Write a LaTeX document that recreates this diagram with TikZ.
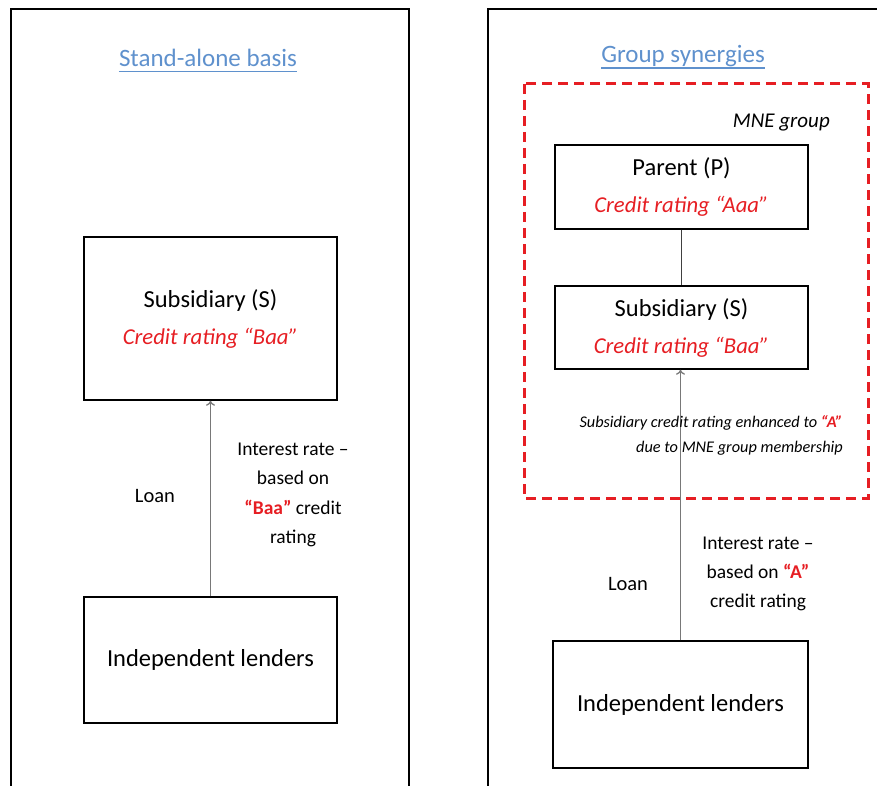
\documentclass[tikz,border=0pt]{standalone}
\usepackage{fontspec}
\setmainfont{Carlito}
\usetikzlibrary{arrows.meta}
\definecolor{redtxt}{RGB}{230,30,35}
\definecolor{titleblue}{RGB}{95,145,205}
\definecolor{arrowgray}{RGB}{120,120,120}
\tikzset{
  frame/.style={draw=black, line width=2.6pt},
  entbox/.style={draw=black, line width=1.5pt, align=center, inner sep=0pt,
    font=\fontsize{24.5}{37}\selectfont},
  lbl/.style={align=center, inner sep=0pt, font=\fontsize{19.5}{29.3}\selectfont},
  ttl/.style={inner sep=0pt, anchor=base, text=titleblue, font=\fontsize{25}{28}\selectfont},
  ulin/.style={draw=titleblue, line width=1.8pt},
  loanarrow/.style={draw=arrowgray, line width=1.3pt, -{To[length=5pt,width=9pt]}},
}
\newcommand{\crating}[1]{{\fontsize{22.7}{37}\selectfont\color{redtxt}\itshape Credit rating “#1”}}
\begin{document}
\begin{tikzpicture}[x=1pt,y=-1pt]
\useasboundingbox (0,0) rectangle (877,786);
\clip (0,0) rectangle (877,786);
% frames
\draw[frame] (11,800) -- (11,9) -- (409,9) -- (409,800);
\draw[frame] (488,800) -- (488,9) -- (890,9);
% titles
\node[ttl] (t1) at (208,67) {Stand-alone basis};
\draw[ulin] ([yshift=-4.5pt]t1.base west) -- ([yshift=-4.5pt]t1.base east);
\node[ttl] (t2) at (683,63) {Group synergies};
\draw[ulin] ([yshift=-5pt]t2.base west) -- ([yshift=-5pt]t2.base east);
% left side
\node[entbox, minimum width=253pt, minimum height=163pt] (ls) at (210.5,318.5)
  {Subsidiary (S)\\ \crating{Baa}};
\node[entbox, minimum width=253pt, minimum height=126pt] (ll) at (210.5,660)
  {Independent lenders};
\draw[loanarrow] (ll.north) -- (ls.south);
\node[lbl, font=\fontsize{20.5}{29.3}\selectfont] (loan1) at (155,496) {Loan};
\node[lbl] (ir1) at (293,495) {Interest rate –\\based on\\{\color{redtxt}\bfseries “Baa”} credit\\rating};
% right side
\draw[draw=redtxt, line width=3pt, dash pattern=on 10pt off 6pt] (524,84) rectangle (868,498);
\node[anchor=east, inner sep=0pt, font=\fontsize{21}{24}\selectfont\itshape] (mne) at (830,123) {MNE group};
\node[entbox, minimum width=253pt, minimum height=84pt] (rp) at (681.5,187)
  {Parent (P)\\ \crating{Aaa}};
\node[entbox, minimum width=253pt, minimum height=83pt] (rs) at (681.5,327.5)
  {Subsidiary (S)\\ \crating{Baa}};
\draw[draw=black!75, line width=1.3pt] (rp.south) -- (rs.north);
\node[entbox, minimum width=255pt, minimum height=127pt] (rl) at (680.5,704.5)
  {Independent lenders};
\draw[loanarrow] (rl.north) -- (rl.north |- rs.south);
\node[anchor=east, align=right, inner sep=0pt, font=\fontsize{16.3}{25}\selectfont\itshape] (note) at (843,435.5)
  {Subsidiary credit rating enhanced to {\color{redtxt}\bfseries “A”}\\due to MNE group membership};
\node[lbl, font=\fontsize{20.5}{29.3}\selectfont] (loan2) at (628,584) {Loan};
\node[lbl] (ir2) at (758,574) {Interest rate –\\based on {\color{redtxt}\bfseries “A”}\\credit rating};
\end{tikzpicture}
\end{document}
